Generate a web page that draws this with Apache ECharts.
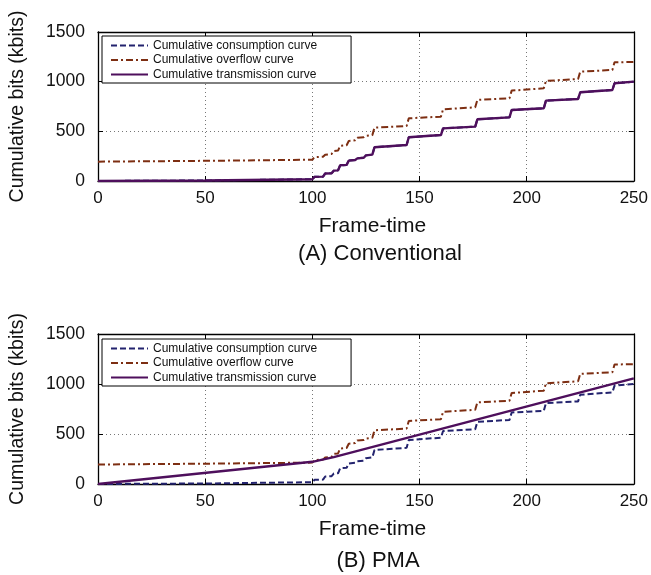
<!DOCTYPE html>
<html>
<head>
<meta charset="utf-8">
<script src="https://cdn.jsdelivr.net/npm/echarts@6/dist/echarts.min.js"></script>
<style>
  html, body { margin: 0; padding: 0; background: #fff; overflow: hidden; }
  #chart { width: 651px; height: 575px; }
</style>
</head>
<body>
<div id="chart"></div>
<script>
// Cumulative bit curves, [frame, kbits]
const consumption = [
  [0, 0], [50, 5], [100, 18], [101, 42], [105, 44], [106, 75], [109, 78], [110, 104],
  [112, 107], [113, 158], [116, 162], [117, 205], [120, 212], [121, 228], [124, 234],
  [125, 258], [128, 265], [129, 340], [144, 362], [145, 440], [160, 463], [161, 530],
  [176, 547], [177, 621], [192, 641], [193, 715], [208, 732], [209, 809], [224, 826],
  [225, 893], [240, 916], [241, 984], [250, 1000]
];
const overflow = [
  [0, 195], [50, 203], [100, 214], [101, 240], [105, 244], [106, 265], [109, 272], [110, 302],
  [112, 306], [113, 355], [116, 360], [117, 403], [120, 410], [121, 435], [124, 440],
  [125, 455], [128, 462], [129, 537], [144, 554], [145, 631], [160, 648], [161, 722],
  [176, 742], [177, 816], [192, 833], [193, 910], [208, 933], [209, 1007], [224, 1027],
  [225, 1101], [240, 1118], [241, 1195], [250, 1198]
];
// Conventional scheme: transmission follows consumption frame by frame
const transmissionConventional = consumption;
// PMA scheme: piecewise-linear transmission schedule
const transmissionPMA = [[0, 0], [100, 222], [110, 268], [250, 1057]];

const seriesNames = ['Cumulative consumption curve', 'Cumulative overflow curve', 'Cumulative transmission curve'];
const panelTitles = ['(A) Conventional', '(B) PMA'];
const xTicks = { min: 0, max: 250, interval: 50 };
const yTicks = { min: 0, max: 1500, interval: 500 };
const xName = 'Frame-time';
const yName = 'Cumulative bits (kbits)';

const FONT = '"Liberation Sans", Arial, Helvetica, sans-serif';
const COLORS = { consumption: '#23236e', overflow: '#7d2e12', transmission: '#4e0f5c' };

const grids = [
  { left: 96, width: 541, top: 32, height: 149 },
  { left: 96, width: 541, top: 334, height: 150 }
];

const axisLineStyle = { show: true, onZero: false, lineStyle: { color: '#000', width: 1.3 } };
const tickStyle = { show: true, inside: true, length: 5, lineStyle: { color: '#000' } };
const gridLineStyle = { show: true, lineStyle: { color: '#777', type: [1, 3], width: 1 } };

function mainX(gi) {
  return {
    type: 'value', gridIndex: gi, min: xTicks.min, max: xTicks.max, interval: xTicks.interval,
    position: 'bottom',
    name: xName, nameLocation: 'middle', nameGap: 35,
    nameTextStyle: { fontFamily: FONT, fontSize: 21, color: '#111', padding: [0, 0, 0, 13] },
    axisLine: axisLineStyle, axisTick: tickStyle,
    axisLabel: { fontFamily: FONT, fontSize: 17, color: '#111', margin: 9 },
    splitLine: gridLineStyle
  };
}
function topX(gi) {
  return {
    type: 'value', gridIndex: gi, min: xTicks.min, max: xTicks.max, interval: xTicks.interval,
    position: 'top', axisLine: axisLineStyle, axisTick: tickStyle,
    axisLabel: { show: false }, splitLine: { show: false }
  };
}
function mainY(gi) {
  return {
    type: 'value', gridIndex: gi, min: yTicks.min, max: yTicks.max, interval: yTicks.interval,
    position: 'left',
    name: yName, nameLocation: 'middle', nameGap: 70, nameRotate: 90,
    nameTextStyle: { fontFamily: FONT, fontSize: 19.5, color: '#111' },
    axisLine: axisLineStyle, axisTick: tickStyle,
    axisLabel: { fontFamily: FONT, fontSize: 17.5, color: '#111', margin: 13, formatter: v => String(v) },
    splitLine: gridLineStyle
  };
}
function rightY(gi) {
  return {
    type: 'value', gridIndex: gi, min: yTicks.min, max: yTicks.max, interval: yTicks.interval,
    position: 'right', axisLine: axisLineStyle, axisTick: tickStyle,
    axisLabel: { show: false }, splitLine: { show: false }
  };
}

function lineSeries(name, data, gi, color, type, width, z) {
  return {
    name, type: 'line', data, xAxisIndex: gi * 2, yAxisIndex: gi * 2,
    symbol: 'none', showSymbol: false, animation: false, z,
    lineStyle: { color, type, width },
    itemStyle: { color }
  };
}

const panels = [
  [consumption, overflow, transmissionConventional],
  [consumption, overflow, transmissionPMA]
];

const series = [];
panels.forEach((p, gi) => {
  series.push(lineSeries(seriesNames[0], p[0], gi, COLORS.consumption, [6, 3], 2, 2));
  series.push(lineSeries(seriesNames[1], p[1], gi, COLORS.overflow, [7, 3, 2, 3], 2, 3));
  series.push(lineSeries(seriesNames[2], p[2], gi, COLORS.transmission, 'solid', 2.4, 4));
});

function legendAt(top) {
  return {
    orient: 'vertical', left: 102, top,
    data: seriesNames,
    backgroundColor: '#fff', borderColor: '#000', borderWidth: 1, borderRadius: 0,
    padding: [3, 34, 2, 8], itemGap: 1.5, itemWidth: 37, itemHeight: 10,
    itemStyle: { opacity: 0 },
    textStyle: { fontFamily: FONT, fontSize: 12, lineHeight: 13, color: '#111' },
    selectedMode: false
  };
}

const chart = echarts.init(document.getElementById('chart'), null, { renderer: 'canvas' });
chart.setOption({
  backgroundColor: '#fff',
  animation: false,
  grid: grids,
  xAxis: [mainX(0), topX(0), mainX(1), topX(1)],
  yAxis: [mainY(0), rightY(0), mainY(1), rightY(1)],
  legend: [legendAt(36), legendAt(339)],
  graphic: [
    { type: 'text', x: 380, y: 254, style: { text: panelTitles[0], font: '22px ' + FONT, fill: '#111', align: 'center', verticalAlign: 'middle' } },
    { type: 'text', x: 378, y: 561, style: { text: panelTitles[1], font: '22px ' + FONT, fill: '#111', align: 'center', verticalAlign: 'middle' } }
  ],
  series
});
</script>
</body>
</html>
